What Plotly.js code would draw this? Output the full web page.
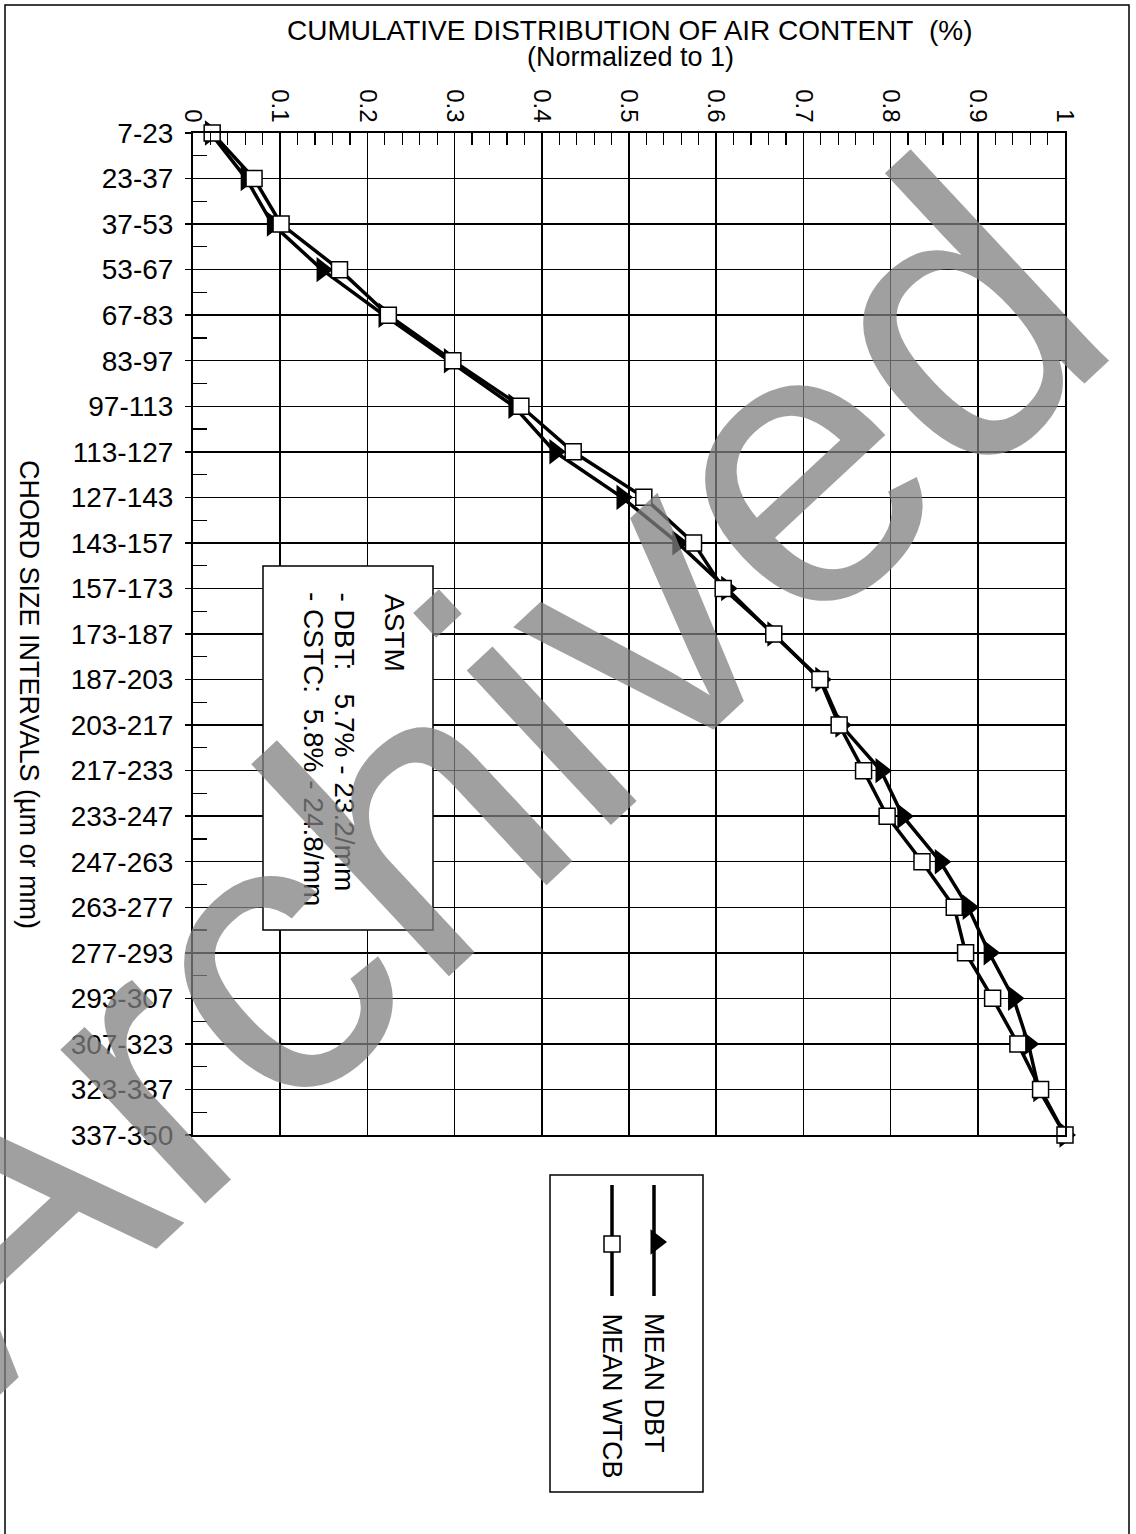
<!DOCTYPE html>
<html>
<head>
<meta charset="utf-8">
<script src="https://cdn.plot.ly/plotly-3.0.1.min.js"></script>
<style>
  html, body { margin: 0; padding: 0; background: #ffffff; }
  #chart { width: 1136px; height: 1534px; }
</style>
</head>
<body>
<div id="chart"></div>
<script>
// Chord size intervals (µm or mm), top to bottom
const categories = ['7-23', '23-37', '37-53', '53-67', '67-83', '83-97', '97-113', '113-127',
  '127-143', '143-157', '157-173', '173-187', '187-203', '203-217', '217-233', '233-247',
  '247-263', '263-277', '277-293', '293-307', '307-323', '323-337', '337-350'];

// Cumulative distribution of air content, normalized to 1
const meanDBT = [0.020, 0.061, 0.091, 0.148, 0.219, 0.294, 0.368, 0.415, 0.492, 0.556, 0.612, 0.665,
  0.720, 0.743, 0.789, 0.814, 0.857, 0.889, 0.913, 0.941, 0.958, 0.970, 1.000];
const meanWTCB = [0.022, 0.070, 0.101, 0.168, 0.224, 0.298, 0.376, 0.436, 0.517, 0.574, 0.608, 0.666,
  0.719, 0.741, 0.769, 0.796, 0.836, 0.873, 0.886, 0.917, 0.946, 0.972, 1.000];

const xTickVals = [0, 0.1, 0.2, 0.3, 0.4, 0.5, 0.6, 0.7, 0.8, 0.9, 1];
const xTickText = ['0', '0.1', '0.2', '0.3', '0.4', '0.5', '0.6', '0.7', '0.8', '0.9', '1'];

const FONT = 'Liberation Sans, Arial, Helvetica, sans-serif';
const W = 1136, H = 1534;
const M = { l: 193, r: 71, t: 133, b: 399 };
const PW = W - M.l - M.r, PH = H - M.t - M.b;
// page pixel -> paper coordinates
const px = x => (x - M.l) / PW;
const py = y => (H - M.b - y) / PH;

const rowIdx = categories.map((c, i) => i);

const traces = [
  {
    type: 'scatter', mode: 'lines+markers', name: 'MEAN DBT',
    x: meanDBT, y: rowIdx,
    line: { color: '#000', width: 3.5 },
    marker: { symbol: 'triangle-right', size: 22, color: '#000', line: { width: 0 } },
    cliponaxis: false
  },
  {
    type: 'scatter', mode: 'lines+markers', name: 'MEAN WTCB',
    x: meanWTCB, y: rowIdx,
    line: { color: '#000', width: 3.5 },
    marker: { symbol: 'square', size: 16, color: '#fff', line: { color: '#000', width: 1.5 } },
    cliponaxis: false
  }
];

function txt(text, x, y, size, opts) {
  return Object.assign({
    text: text, xref: 'paper', yref: 'paper', x: px(x), y: py(y),
    showarrow: false, font: { family: FONT, size: size, color: '#000' },
    xanchor: 'center', yanchor: 'middle'
  }, opts || {});
}

// legend sample glyphs (page pixels)
const triPath = (cx, cy, r) => {
  const a = [[cx - r / 2, cy - r * 1.1547], [cx + r, cy], [cx - r / 2, cy + r * 1.1547]];
  return 'M' + a.map(p => px(p[0]).toFixed(5) + ',' + py(p[1]).toFixed(5)).join('L') + 'Z';
};

const shapes = [
  // page frame
  { type: 'rect', xref: 'paper', yref: 'paper', x0: px(5), x1: px(1129), y0: py(5), y1: py(1545),
    line: { color: '#000', width: 1.5 }, layer: 'below' },
  // ASTM note box
  { type: 'rect', xref: 'paper', yref: 'paper', x0: px(263), x1: px(433), y0: py(566), y1: py(930),
    line: { color: '#000', width: 1.5 }, fillcolor: '#fff', layer: 'above' },
  // legend box
  { type: 'rect', xref: 'paper', yref: 'paper', x0: px(550), x1: px(703), y0: py(1175), y1: py(1492),
    line: { color: '#000', width: 1.5 }, fillcolor: '#fff', layer: 'above' },
  { type: 'line', xref: 'paper', yref: 'paper', x0: px(654), x1: px(654), y0: py(1185), y1: py(1296),
    line: { color: '#000', width: 3.5 } },
  { type: 'line', xref: 'paper', yref: 'paper', x0: px(612), x1: px(612), y0: py(1185), y1: py(1296),
    line: { color: '#000', width: 3.5 } },
  { type: 'path', xref: 'paper', yref: 'paper', path: triPath(656, 1242, 11),
    fillcolor: '#000', line: { color: '#000', width: 0 } },
  { type: 'rect', xref: 'paper', yref: 'paper', x0: px(604), x1: px(620), y0: py(1236), y1: py(1252),
    fillcolor: '#fff', line: { color: '#000', width: 1.5 } }
];

const annotations = [
  txt('CUMULATIVE DISTRIBUTION OF AIR CONTENT\u00a0 (%)', 630, 31, 28),
  txt('(Normalized to 1)', 630, 57, 27),
  txt('CHORD SIZE INTERVALS (µm or mm)', 29, 694, 27, { textangle: 90 }),
  txt('ASTM', 395, 592, 28, { textangle: 90, yanchor: 'top' }),
  txt('- DBT:\u00a0\u00a0 5.7% - 23.2/mm', 344, 590, 28, { textangle: 90, yanchor: 'top' }),
  txt('- CSTC:\u00a0 5.8% - 24.8/mm', 314, 590, 28, { textangle: 90, yanchor: 'top' }),
  txt('MEAN DBT', 654, 1311, 27, { textangle: 90, yanchor: 'top' }),
  txt('MEAN WTCB', 612, 1311, 27, { textangle: 90, yanchor: 'top' }),
  // archive stamp across the page
  txt('Archived', 464, 772, 400, { textangle: -43, font: { family: FONT, size: 400, color: 'rgba(128,128,128,0.75)' } })
];

const layout = {
  width: W, height: H,
  margin: M,
  paper_bgcolor: '#fff', plot_bgcolor: '#fff',
  showlegend: false,
  font: { family: FONT, color: '#000' },
  xaxis: {
    side: 'top', range: [0, 1], fixedrange: true,
    tickmode: 'array', tickvals: xTickVals, ticktext: xTickText,
    tickangle: 90, tickfont: { family: FONT, size: 24, color: '#000' },
    ticks: 'inside', ticklen: 12, tickwidth: 1.5, tickcolor: '#000',
    showgrid: true, gridcolor: '#000', gridwidth: 1.5,
    showline: true, linecolor: '#000', linewidth: 2, mirror: true,
    zeroline: false,
    minor: { dtick: 0.02, tick0: 0, ticks: 'inside', ticklen: 12, tickwidth: 1.2, tickcolor: '#000', showgrid: false }
  },
  yaxis: {
    range: [categories.length - 1, 0], fixedrange: true,
    tickmode: 'array', tickvals: rowIdx, ticktext: categories,
    tickfont: { family: FONT, size: 28, color: '#000' },
    ticks: 'outside', ticklen: 6, tickwidth: 1.5, tickcolor: '#000',
    ticklabelstandoff: 6,
    showgrid: true, gridcolor: '#000', gridwidth: 1.5,
    showline: true, linecolor: '#000', linewidth: 2, mirror: true,
    zeroline: false,
    minor: { tickmode: 'array', tickvals: rowIdx.slice(1).map(i => i - 0.5), ticks: 'inside', ticklen: 14, tickwidth: 1.2, tickcolor: '#000', showgrid: false }
  },
  shapes: shapes,
  annotations: annotations
};

Plotly.newPlot('chart', traces, layout, { displayModeBar: false, staticPlot: true });
</script>
</body>
</html>
